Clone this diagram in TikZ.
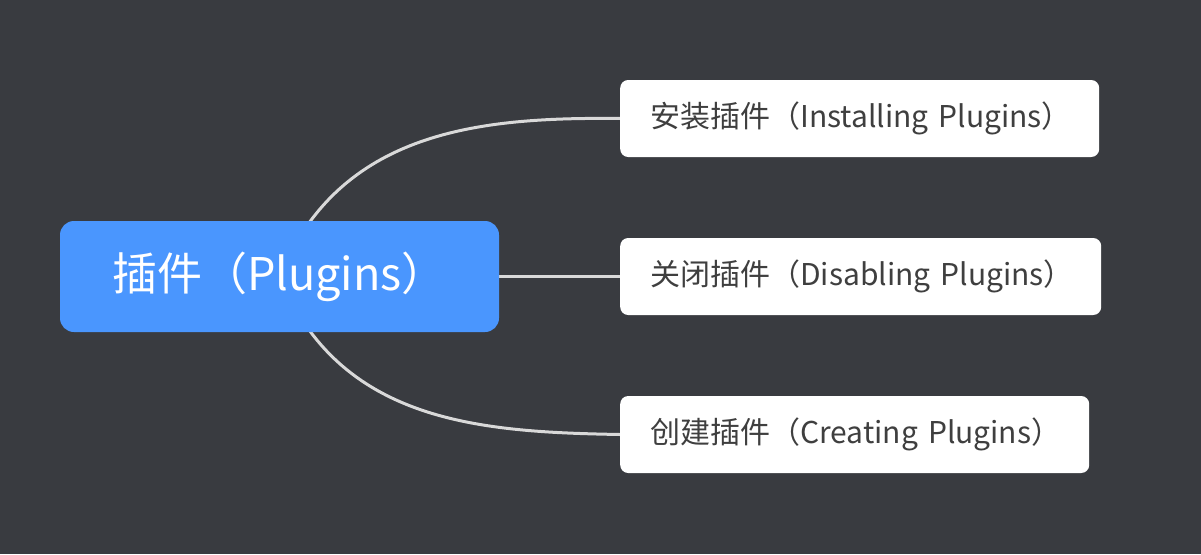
\documentclass[tikz,border=0pt]{standalone}
\usepackage{fontspec}
\setmainfont{Noto Sans CJK SC}
\usetikzlibrary{backgrounds}

\definecolor{bgdark}{HTML}{393B40}
\definecolor{rootblue}{HTML}{4A96FE}
\definecolor{leafgray}{HTML}{3F3F3F}
\definecolor{branchgray}{HTML}{D9D9D9}

\tikzset{
    rootbox/.style={fill=rootblue, rounded corners=14pt, text=white,
        minimum height=111pt, inner xsep=52pt, inner ysep=0pt,
        text width=335pt, align=left, font=\fontsize{45}{50}\selectfont},
    leafbox/.style={fill=white, rounded corners=8pt, text=leafgray,
        minimum height=77pt, inner xsep=30pt, inner ysep=0pt,
        align=left, anchor=west, font=\fontsize{30}{34}\selectfont},
    branch/.style={draw=branchgray, line width=3pt}
}

\begin{document}
\begin{tikzpicture}[x=1pt, y=-1pt]
    % Root and leaves
    \node[rootbox] (plugins) at (279.5,276.5) {\mbox{插件（Plugins）}};
    \node[leafbox, text width=419pt] (install) at (620,118.5) {\mbox{安装插件（Installing Plugins）}};
    \node[leafbox, text width=421pt] (disable) at (620,276.5) {\mbox{关闭插件（Disabling Plugins）}};
    \node[leafbox, text width=409pt] (create) at (620,434.5) {\mbox{创建插件（Creating Plugins）}};

    % Background and branches, behind the boxes
    \begin{scope}[on background layer]
        \fill[bgdark] (0,0) rectangle (1201,554);
        \draw[branch] (plugins.center) .. controls (340,130) and (480,117) .. (install.west);
        \draw[branch] (plugins.center) -- (disable.west);
        \draw[branch] (plugins.center) .. controls (340,423) and (480,432) .. (create.west);
    \end{scope}
\end{tikzpicture}
\end{document}
